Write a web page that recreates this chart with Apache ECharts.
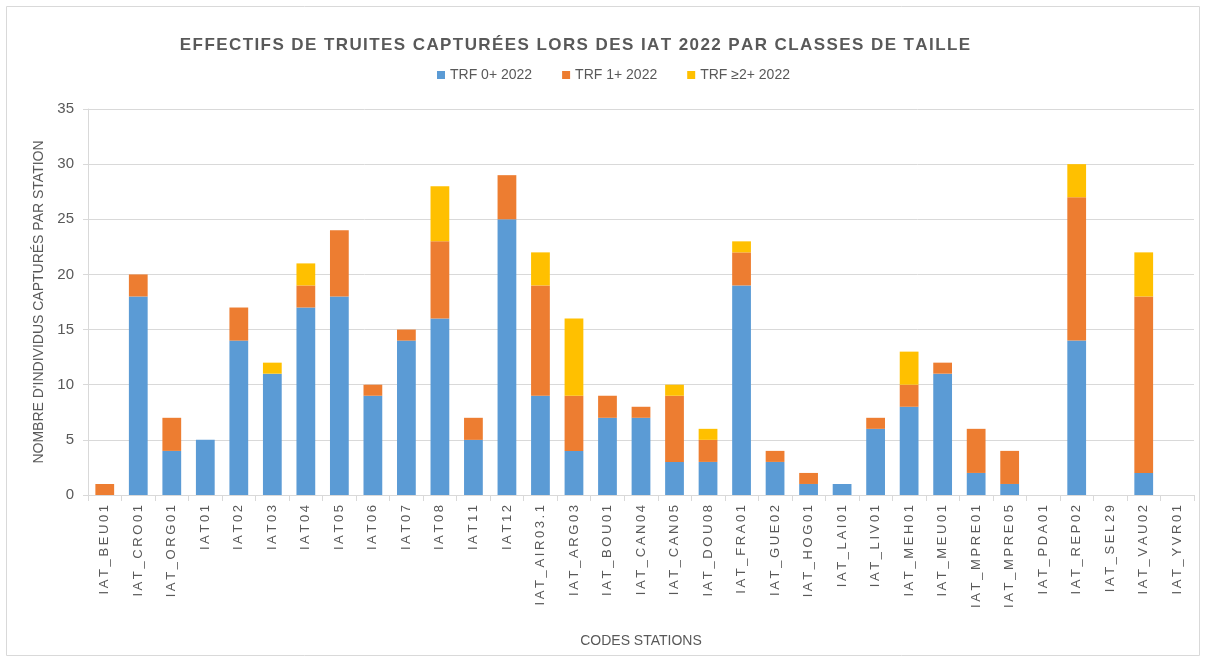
<!DOCTYPE html>
<html>
<head>
<meta charset="utf-8">
<script src="https://cdn.jsdelivr.net/npm/echarts@6/dist/echarts.min.js"></script>
<style>
  html, body { margin: 0; padding: 0; background: #fff; }
  #chart { width: 1206px; height: 662px; }
</style>
</head>
<body>
<div id="chart"></div>
<script>
var stations = ["IAT_BEU01", "IAT_CRO01", "IAT_ORG01", "IAT01", "IAT02", "IAT03", "IAT04", "IAT05",
    "IAT06", "IAT07", "IAT08", "IAT11", "IAT12", "IAT_AIR03.1", "IAT_ARG03", "IAT_BOU01", "IAT_CAN04",
    "IAT_CAN05", "IAT_DOU08", "IAT_FRA01", "IAT_GUE02", "IAT_HOG01", "IAT_LAI01", "IAT_LIV01",
    "IAT_MEH01", "IAT_MEU01", "IAT_MPRE01", "IAT_MPRE05", "IAT_PDA01", "IAT_REP02", "IAT_SEL29",
    "IAT_VAU02", "IAT_YVR01"];
var trf0 = [0, 18, 4, 5, 14, 11, 17, 18, 9, 14, 16, 5, 25, 9, 4, 7, 7, 3, 3, 19, 3, 1, 1, 6, 8, 11, 2, 1, 0, 14, 0, 2, 0];
var trf1 = [1, 2, 3, 0, 3, 0, 2, 6, 1, 1, 7, 2, 4, 10, 5, 2, 1, 6, 2, 3, 1, 1, 0, 1, 2, 1, 4, 3, 0, 13, 0, 16, 0];
var trf2 = [0, 0, 0, 0, 0, 1, 2, 0, 0, 0, 5, 0, 0, 3, 7, 0, 0, 1, 1, 1, 0, 0, 0, 0, 3, 0, 0, 0, 0, 3, 0, 4, 0];
var seriesNames = ["TRF 0+ 2022", "TRF 1+ 2022", "TRF \u22652+ 2022"];
var colors = ["#5B9BD5", "#ED7D31", "#FFC000"];

var chart = echarts.init(document.getElementById("chart"));
var txt = "#595959";
var font = "'Liberation Sans', Arial, sans-serif";

// spread letters a little, like the letter-spaced original
function spaced(s, sp) {
    return s.split("").join(sp || "\u2009");
}

function makeSeries(name, data, color) {
    return {
        name: name,
        type: "bar",
        stack: "total",
        data: data,
        barWidth: "56%",
        itemStyle: { color: color },
        emphasis: { disabled: true }
    };
}

var option = {
    animation: false,
    textStyle: { fontFamily: font },
    title: {
        text: spaced("EFFECTIFS DE TRUITES CAPTURÉES LORS DES IAT 2022 PAR CLASSES DE TAILLE", "\u200A"),
        left: 570,
        textAlign: "center",
        top: 32,
        textStyle: { color: txt, fontSize: 17, fontWeight: "bold", fontFamily: font }
    },
    legend: {
        top: 63,
        left: 432,
        itemWidth: 8,
        itemHeight: 8,
        itemGap: 30,
        icon: "rect",
        textStyle: { color: txt, fontSize: 14, fontFamily: font },
        data: seriesNames
    },
    graphic: [{
        type: "rect",
        shape: { x: 6.5, y: 6.5, width: 1193, height: 649 },
        style: { fill: "none", stroke: "#d9d9d9", lineWidth: 1 },
        silent: true
    }],
    grid: { left: 88, right: 12, top: 109, bottom: 167 },
    xAxis: {
        type: "category",
        data: stations,
        name: "CODES STATIONS",
        nameLocation: "middle",
        nameGap: 139,
        nameTextStyle: { color: txt, fontSize: 14, fontFamily: font },
        axisLine: { lineStyle: { color: "#d9d9d9", width: 1 } },
        axisTick: { show: true, length: 6, lineStyle: { color: "#d9d9d9" } },
        axisLabel: {
            rotate: 90,
            interval: 0,
            color: txt,
            fontSize: 13,
            margin: 10,
            formatter: function (v) { return spaced(v); }
        }
    },
    yAxis: {
        type: "value",
        min: 0,
        max: 35,
        interval: 5,
        name: "NOMBRE D'INDIVIDUS CAPTURÉS PAR STATION",
        nameLocation: "middle",
        nameGap: 33,
        nameTextStyle: { color: txt, fontSize: 14, fontFamily: font },
        axisLine: { show: true, lineStyle: { color: "#d9d9d9" } },
        axisTick: { show: true, length: 5, lineStyle: { color: "#d9d9d9" } },
        axisLabel: { color: txt, fontSize: 15, margin: 14 },
        splitLine: { lineStyle: { color: "#d9d9d9", width: 1 } }
    },
    series: [
        makeSeries(seriesNames[0], trf0, colors[0]),
        makeSeries(seriesNames[1], trf1, colors[1]),
        makeSeries(seriesNames[2], trf2, colors[2])
    ]
};

chart.setOption(option);
</script>
</body>
</html>
